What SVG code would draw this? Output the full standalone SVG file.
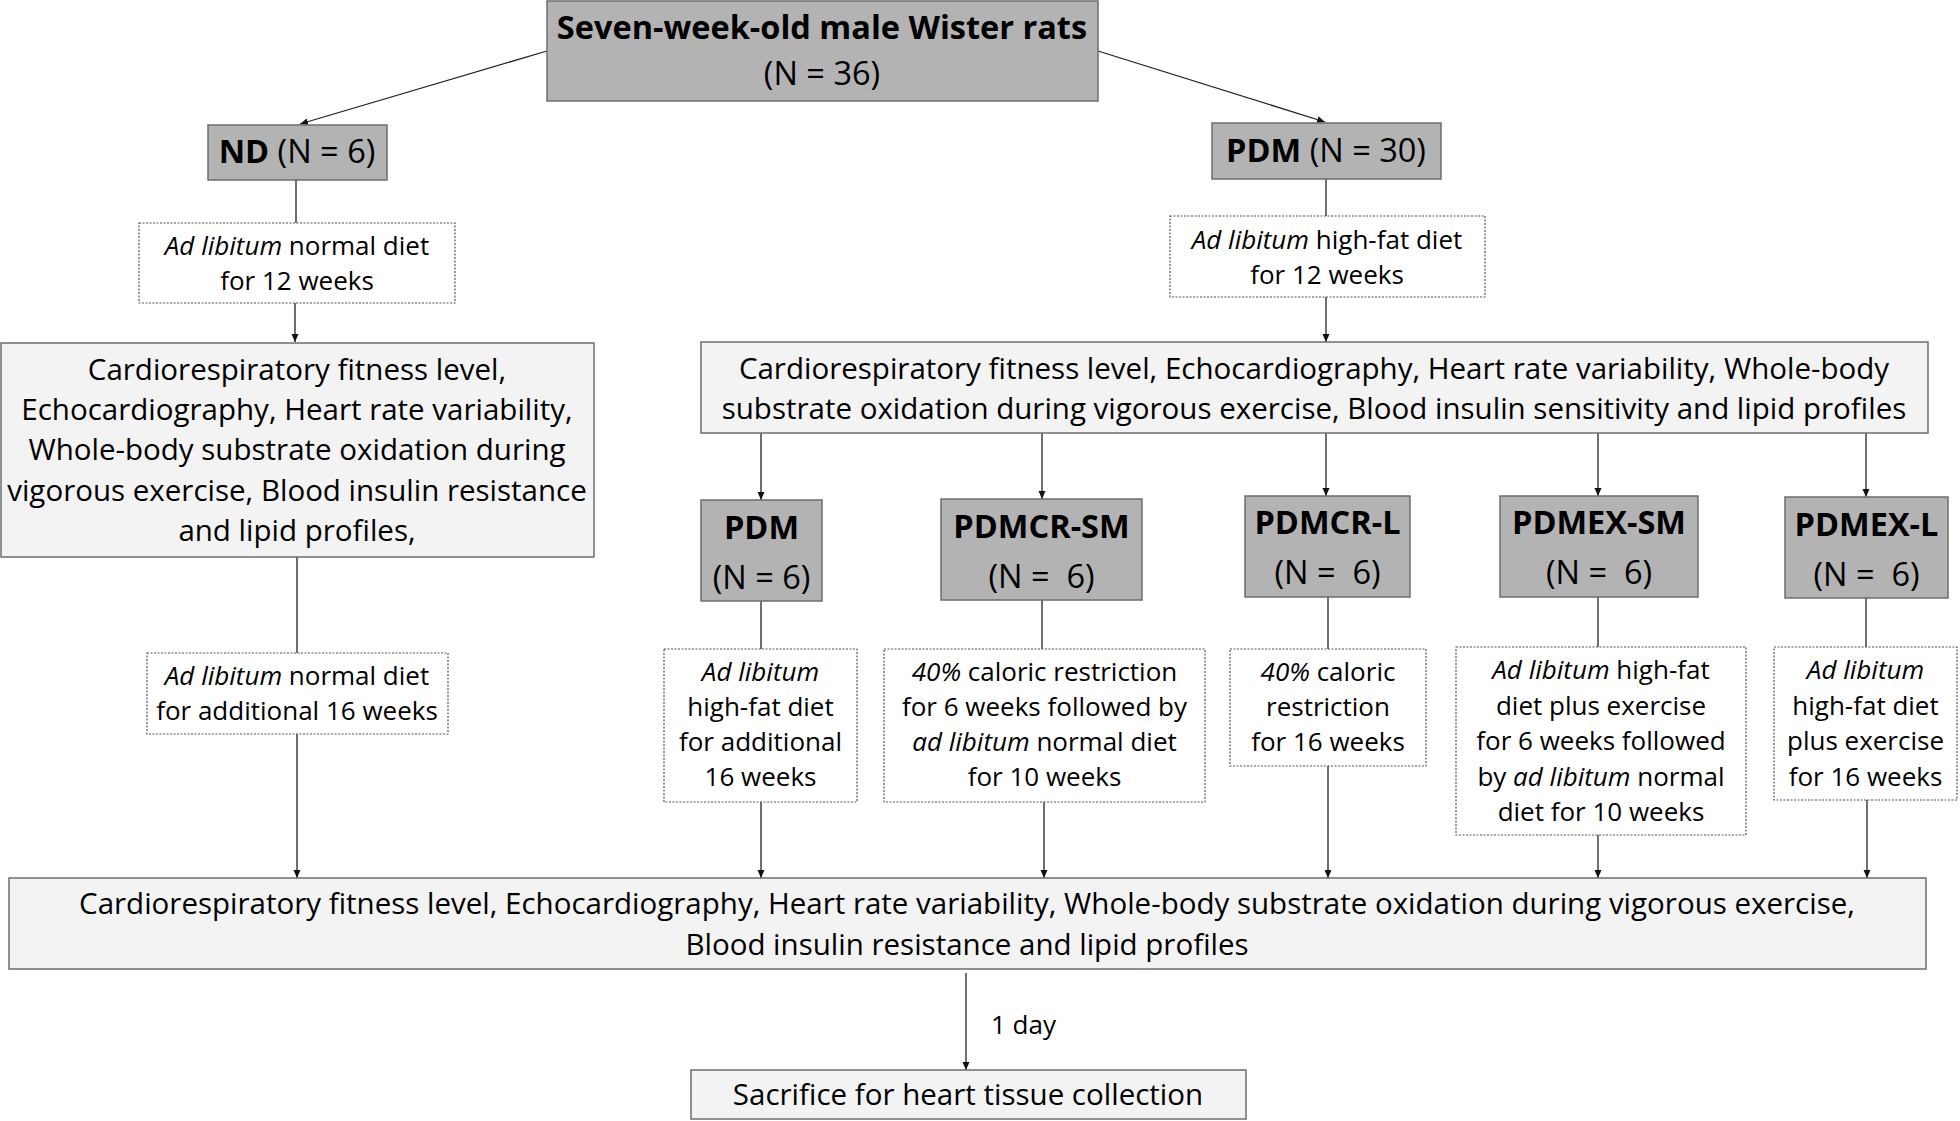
<svg xmlns="http://www.w3.org/2000/svg" width="1960" height="1121" viewBox="0 0 1960 1121">
<style>
.t{font-family:"Open Sans","Liberation Sans",sans-serif;font-size:26px;fill:#000;text-anchor:middle}
.m{font-size:29.5px}
.big{font-size:32.5px}
.b{font-weight:bold}
.i{font-style:italic}
.gray{fill:#b3b3b3;stroke:#6e6e6e;stroke-width:1.5}
.light{fill:#f3f3f3;stroke:#6e6e6e;stroke-width:1.5}
.dot{fill:#fff;stroke:#555;stroke-width:1.2;stroke-dasharray:2 1.5}
.c{stroke:#222;stroke-width:1.3;fill:none}
.a{marker-end:url(#ah)}
</style>
<defs>
<marker id="ah" markerUnits="userSpaceOnUse" markerWidth="8" markerHeight="8" refX="8" refY="3.5" orient="auto">
<path d="M0,0 L8,3.5 L0,7 z" fill="#111"/>
</marker>
</defs>
<rect width="1960" height="1121" fill="#fff"/>
<g id="connectors">
<line class="c a" x1="547" y1="51" x2="300" y2="124"/>
<line class="c a" x1="1098" y1="51" x2="1325" y2="122"/>
<line class="c" x1="296" y1="180" x2="296" y2="223"/>
<line class="c a" x1="295" y1="303" x2="295" y2="342"/>
<line class="c" x1="297" y1="557" x2="297" y2="653"/>
<line class="c a" x1="297" y1="734" x2="297" y2="878"/>
<line class="c" x1="1326" y1="179" x2="1326" y2="216"/>
<line class="c a" x1="1326" y1="297" x2="1326" y2="342"/>
<line class="c a" x1="761" y1="433" x2="761" y2="500"/>
<line class="c a" x1="1042" y1="433" x2="1042" y2="499"/>
<line class="c a" x1="1326" y1="433" x2="1326" y2="496"/>
<line class="c a" x1="1598" y1="433" x2="1598" y2="496"/>
<line class="c a" x1="1866" y1="433" x2="1866" y2="497"/>
<line class="c" x1="761" y1="601" x2="761" y2="649"/>
<line class="c" x1="1042" y1="600" x2="1042" y2="649"/>
<line class="c" x1="1328" y1="597" x2="1328" y2="649"/>
<line class="c" x1="1598" y1="597" x2="1598" y2="647"/>
<line class="c" x1="1866" y1="598" x2="1866" y2="647"/>
<line class="c a" x1="761" y1="802" x2="761" y2="878"/>
<line class="c a" x1="1044" y1="802" x2="1044" y2="878"/>
<line class="c a" x1="1328" y1="766" x2="1328" y2="878"/>
<line class="c a" x1="1598" y1="835" x2="1598" y2="878"/>
<line class="c a" x1="1867" y1="800" x2="1867" y2="878"/>
<line class="c a" x1="966" y1="973" x2="966" y2="1070"/>
<text class="t" x="991" y="1034" style="text-anchor:start">1 day</text>
</g>
<g id="n-top">
<rect class="gray" x="547" y="1" width="551" height="100"/>
<text class="t big b" x="822" y="39">Seven-week-old male Wister rats</text>
<text class="t big" x="822" y="85">(N = 36)</text>
</g>
<g id="n-nd">
<rect class="gray" x="208" y="125" width="179" height="55"/>
<text class="t big" x="297" y="163"><tspan class="b">ND</tspan> (N = 6)</text>
</g>
<g id="n-pdm30">
<rect class="gray" x="1212" y="123" width="229" height="56"/>
<text class="t big" x="1326" y="162"><tspan class="b">PDM</tspan> (N = 30)</text>
</g>
<g id="n-nd-diet">
<rect class="dot" x="139" y="223" width="316" height="80"/>
<text class="t" x="297" y="255"><tspan class="i">Ad libitum</tspan> normal diet</text>
<text class="t" x="297" y="290">for 12 weeks</text>
</g>
<g id="n-pdm-diet">
<rect class="dot" x="1170" y="216" width="315" height="81"/>
<text class="t" x="1327" y="249"><tspan class="i">Ad libitum</tspan> high-fat diet</text>
<text class="t" x="1327" y="284">for 12 weeks</text>
</g>
<g id="n-left-measure">
<rect class="light" x="1" y="343" width="593" height="214"/>
<text class="t m" x="297" y="380">Cardiorespiratory fitness level,</text>
<text class="t m" x="297" y="420">Echocardiography, Heart rate variability,</text>
<text class="t m" x="297" y="460">Whole-body substrate oxidation during</text>
<text class="t m" x="297" y="501">vigorous exercise, Blood insulin resistance</text>
<text class="t m" x="297" y="541">and lipid profiles,</text>
</g>
<g id="n-right-measure">
<rect class="light" x="701" y="342" width="1227" height="91"/>
<text class="t m" x="1314" y="379">Cardiorespiratory fitness level, Echocardiography, Heart rate variability, Whole-body</text>
<text class="t m" x="1314" y="419">substrate oxidation during vigorous exercise, Blood insulin sensitivity and lipid profiles</text>
</g>
<g id="n-nd-diet2">
<rect class="dot" x="147" y="653" width="301" height="81"/>
<text class="t" x="297" y="685"><tspan class="i">Ad libitum</tspan> normal diet</text>
<text class="t" x="297" y="720">for additional 16 weeks</text>
</g>
<g id="n-g-pdm">
<rect class="gray" x="701" y="500" width="121" height="101"/>
<text class="t big b" x="761.5" y="539">PDM</text>
<text class="t big" x="761.5" y="589">(N = 6)</text>
</g>
<g id="n-g-crsm">
<rect class="gray" x="941" y="499" width="201" height="101"/>
<text class="t big b" x="1041.5" y="538">PDMCR-SM</text>
<text class="t big" x="1041.5" y="588" xml:space="preserve">(N =  6)</text>
</g>
<g id="n-g-crl">
<rect class="gray" x="1245" y="496" width="165" height="101"/>
<text class="t big b" x="1327.5" y="534">PDMCR-L</text>
<text class="t big" x="1327.5" y="584" xml:space="preserve">(N =  6)</text>
</g>
<g id="n-g-exsm">
<rect class="gray" x="1500" y="496" width="198" height="101"/>
<text class="t big b" x="1599" y="534">PDMEX-SM</text>
<text class="t big" x="1599" y="584" xml:space="preserve">(N =  6)</text>
</g>
<g id="n-g-exl">
<rect class="gray" x="1785" y="497" width="163" height="101"/>
<text class="t big b" x="1866.5" y="536">PDMEX-L</text>
<text class="t big" x="1866.5" y="586" xml:space="preserve">(N =  6)</text>
</g>
<g id="n-d-pdm">
<rect class="dot" x="664" y="649" width="193" height="153"/>
<text class="t i" x="760.5" y="681">Ad libitum</text>
<text class="t" x="760.5" y="716">high-fat diet</text>
<text class="t" x="760.5" y="751">for additional</text>
<text class="t" x="760.5" y="786">16 weeks</text>
</g>
<g id="n-d-crsm">
<rect class="dot" x="884" y="649" width="321" height="153"/>
<text class="t" x="1044.5" y="681"><tspan class="i">40%</tspan> caloric restriction</text>
<text class="t" x="1044.5" y="716">for 6 weeks followed by</text>
<text class="t" x="1044.5" y="751"><tspan class="i">ad libitum</tspan> normal diet</text>
<text class="t" x="1044.5" y="786">for 10 weeks</text>
</g>
<g id="n-d-crl">
<rect class="dot" x="1230" y="649" width="196" height="117"/>
<text class="t" x="1328" y="681"><tspan class="i">40%</tspan> caloric</text>
<text class="t" x="1328" y="716">restriction</text>
<text class="t" x="1328" y="751">for 16 weeks</text>
</g>
<g id="n-d-exsm">
<rect class="dot" x="1456" y="647" width="290" height="188"/>
<text class="t" x="1601" y="679"><tspan class="i">Ad libitum</tspan> high-fat</text>
<text class="t" x="1601" y="715">diet plus exercise</text>
<text class="t" x="1601" y="750">for 6 weeks followed</text>
<text class="t" x="1601" y="786">by <tspan class="i">ad libitum</tspan> normal</text>
<text class="t" x="1601" y="821">diet for 10 weeks</text>
</g>
<g id="n-d-exl">
<rect class="dot" x="1774" y="647" width="183" height="153"/>
<text class="t i" x="1865.5" y="679">Ad libitum</text>
<text class="t" x="1865.5" y="715">high-fat diet</text>
<text class="t" x="1865.5" y="750">plus exercise</text>
<text class="t" x="1865.5" y="786">for 16 weeks</text>
</g>
<g id="n-bottom-measure">
<rect class="light" x="9" y="878" width="1917" height="91"/>
<text class="t m" x="967" y="914">Cardiorespiratory fitness level, Echocardiography, Heart rate variability, Whole-body substrate oxidation during vigorous exercise,</text>
<text class="t m" x="967" y="955">Blood insulin resistance and lipid profiles</text>
</g>
<g id="n-sacrifice">
<rect class="light" x="691" y="1070" width="555" height="49"/>
<text class="t m" x="968" y="1105">Sacrifice for heart tissue collection</text>
</g>
</svg>
